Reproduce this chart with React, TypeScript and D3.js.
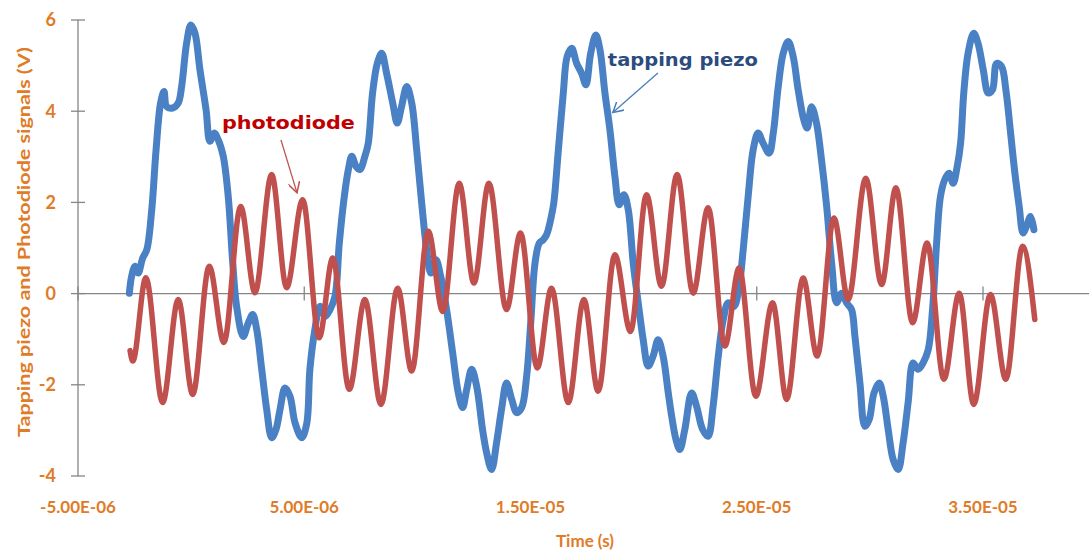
import React from "react";
import * as d3 from "d3";

// time in microseconds, signal in volts
const piezoT = [
  -2.73, -2.63, -2.48, -2.34, -2.14, -1.96, -1.74, -1.55, -1.35, -1.2, -1.08, -0.82, -0.57, -0.42, -0.2, -0.01, 0.17,
  0.39, 0.66, 0.83, 1.02, 1.2, 1.42, 1.64, 1.84, 2.01, 2.3, 2.53, 2.72, 2.9, 3.12, 3.34, 3.56, 3.75, 3.93, 4.15, 4.37,
  4.59, 4.89, 5.11, 5.25, 5.47, 5.69, 5.92, 6.14, 6.36, 6.55, 6.77, 6.95, 7.1, 7.29, 7.46, 7.68, 7.83, 8.02, 8.23,
  8.42, 8.64, 8.91, 9.11, 9.3, 9.53, 9.75, 9.97, 10.19, 10.41, 10.6, 10.82, 11.03, 11.29, 11.56, 11.81, 12.0, 12.18,
  12.4, 12.62, 12.88, 13.06, 13.28, 13.5, 13.72, 13.94, 14.17, 14.39, 14.61, 14.83, 15.01, 15.2, 15.39, 15.56, 15.71,
  15.89, 16.03, 16.22, 16.45, 16.62, 16.82, 17.04, 17.26, 17.45, 17.66, 17.89, 18.07, 18.29, 18.51, 18.73, 18.92,
  19.13, 19.32, 19.54, 19.76, 19.98, 20.2, 20.42, 20.64, 20.86, 21.09, 21.24, 21.43, 21.6, 21.82, 22.12, 22.34, 22.61,
  22.85, 23.07, 23.3, 23.52, 23.74, 23.99, 24.22, 24.4, 24.62, 24.84, 25.06, 25.28, 25.55, 25.73, 25.95, 26.17, 26.39,
  26.61, 26.83, 27.08, 27.23, 27.42, 27.64, 27.86, 28.09, 28.31, 28.53, 28.75, 28.97, 29.19, 29.34, 29.56, 29.78,
  29.97, 30.18, 30.41, 30.59, 30.81, 31.03, 31.25, 31.47, 31.69, 31.91, 32.13, 32.35, 32.58, 32.77, 32.95, 33.12,
  33.31, 33.5, 33.68, 33.86, 34.01, 34.15, 34.34, 34.59, 34.78, 35.01, 35.23, 35.42, 35.6, 35.82, 36.01, 36.22, 36.41,
  36.6, 36.77, 36.92, 37.1, 37.25,
];
const piezoV = [
  0.01, 0.38, 0.6, 0.45, 0.78, 0.96, 1.84, 3.15, 4.18, 4.43, 4.1, 4.07, 4.18, 4.54, 5.49, 5.89, 5.71, 4.91, 4.03, 3.34,
  3.52, 3.37, 3.01, 2.13, 0.67, -0.28, -0.94, -0.64, -0.46, -0.79, -1.66, -2.54, -3.16, -2.98, -2.54, -2.07, -2.25,
  -2.83, -3.16, -2.85, -1.66, -0.79, -0.28, -0.5, -0.35, -0.06, 1.11, 2.13, 2.72, 3.01, 2.79, 2.72, 3.01, 3.3, 4.4,
  5.05, 5.27, 4.83, 4.18, 3.74, 4.1, 4.54, 4.18, 3.15, 1.99, 0.96, 0.45, 0.74, 0.38, -0.35, -1.3, -2.18, -2.5, -2.1,
  -1.66, -2.03, -2.98, -3.49, -3.86, -3.27, -2.54, -1.96, -2.32, -2.61, -2.5, -1.81, -0.64, 0.67, 1.11, 1.18, 1.29,
  1.62, 1.99, 3.08, 4.4, 5.2, 5.38, 5.05, 4.83, 4.58, 5.27, 5.67, 5.35, 4.4, 3.59, 2.57, 1.95, 2.17, 1.84, 0.67, -0.2,
  -1.01, -1.59, -1.37, -1.01, -1.37, -2.18, -2.69, -3.2, -3.42, -2.98, -2.18, -2.47, -2.98, -3.13, -2.47, -1.37, -0.57,
  -0.2, -0.28, 0.16, 0.96, 2.13, 3.15, 3.52, 3.3, 3.08, 3.52, 4.54, 5.27, 5.53, 5.2, 4.47, 3.81, 3.63, 4.1, 3.74, 2.94,
  1.91, 0.67, -0.2, 0.01, -0.2, -0.35, -0.94, -1.96, -2.91, -2.76, -2.18, -1.96, -2.25, -2.98, -3.64, -3.86, -3.27,
  -2.39, -1.52, -1.66, -1.52, -1.23, -0.35, 1.11, 2.13, 2.5, 2.64, 2.42, 2.79, 3.3, 4.4, 5.27, 5.71, 5.49, 4.91, 4.4,
  4.47, 5.05, 4.98, 4.47, 3.52, 2.64, 1.91, 1.33, 1.47, 1.69, 1.4,
];

const diodeT = [
  -2.7, -2.58, -2.0, -1.26, -0.57, 0.07, 0.8, 1.45, 2.19, 2.82, 3.56, 4.22, 4.93, 5.66, 6.26, 6.99, 7.68, 8.39, 9.13,
  9.75, 10.48, 11.12, 11.85, 12.5, 13.16, 13.94, 14.56, 15.3, 15.93, 16.67, 17.36, 17.99, 18.73, 19.42, 20.13, 20.79,
  21.48, 22.19, 22.85, 23.59, 24.22, 24.96, 25.7, 26.32, 27.05, 27.67, 28.41, 29.04, 29.82, 30.52, 31.15, 31.89, 32.53,
  33.27, 33.95, 34.59, 35.33, 36.01, 36.75, 37.29,
];
const diodeV = [
  -1.25, -1.48, 0.35, -2.39, -0.13, -2.21, 0.6, -1.07, 1.91, 0.02, 2.61, 0.13, 2.06, -0.97, 0.78, -2.1, -0.13, -2.43,
  0.12, -1.7, 1.37, -0.39, 2.42, 0.23, 2.42, -0.35, 1.33, -1.63, 0.12, -2.39, -0.13, -2.14, 0.85, -0.83, 2.17, 0.16,
  2.61, 0.01, 1.88, -1.15, 0.56, -2.25, -0.2, -2.32, 0.34, -1.37, 1.66, -0.13, 2.53, 0.2, 2.32, -0.64, 1.11, -1.88,
  0.01, -2.43, -0.02, -1.88, 1.04, -0.57,
];

const xTicks = [-5, 5, 15, 25, 35];
const xTickLabels = ["-5.00E-06", "5.00E-06", "1.50E-05", "2.50E-05", "3.50E-05"];
const yTicks = [-4, -2, 0, 2, 4, 6];

const W = 1089;
const H = 551;
const axisColor = "#868686";
const labelColor = "#E07B27";
const blue = "#4A80C4";
const red = "#C0504D";

export default function App() {
  const x = d3.scaleLinear().domain([-5, 35]).range([78, 983]);
  const y = d3.scaleLinear().domain([-4, 6]).range([476, 20]);

  const piezo = piezoT.map((t, i) => [t, piezoV[i]] as [number, number]);
  const diode = diodeT.map((t, i) => [t, diodeV[i]] as [number, number]);

  const piezoLine = d3
    .line<[number, number]>()
    .x((d) => x(d[0]))
    .y((d) => y(d[1]))
    .curve(d3.curveCatmullRom.alpha(0.5));
  const diodeLine = d3
    .line<[number, number]>()
    .x((d) => x(d[0]))
    .y((d) => y(d[1]))
    .curve(d3.curveMonotoneX);

  const font = "Lato, 'Open Sans', sans-serif";
  const annFont = "'DejaVu Sans', Verdana, sans-serif";

  return (
    <svg
      width={W}
      height={H}
      style={{ position: "absolute", left: 0, top: 0, background: "#fff" }}
    >
      <defs>
        <marker id="headRed" viewBox="0 0 10 10" refX="9" refY="5" markerWidth="9" markerHeight="9" orient="auto">
          <path d="M0,0 L9,5 L0,10" fill="none" stroke={red} strokeWidth="1.3" />
        </marker>
        <marker id="headBlue" viewBox="0 0 10 10" refX="9" refY="5" markerWidth="9" markerHeight="9" orient="auto">
          <path d="M0,0 L9,5 L0,10" fill="none" stroke="#4A7EBB" strokeWidth="1.3" />
        </marker>
      </defs>

      {/* y axis */}
      <line x1={x(-5)} x2={x(-5)} y1={y(6)} y2={y(-4)} stroke={axisColor} strokeWidth={1.3} />
      {yTicks.map((v) => (
        <g key={v}>
          <line x1={x(-5) - 7} x2={x(-5) + 7} y1={y(v)} y2={y(v)} stroke={axisColor} strokeWidth={1.3} />
          <text
            x={x(-5) - 22}
            y={y(v)}
            dy="0.35em"
            textAnchor="end"
            fontFamily={font}
            fontWeight="bold"
            fontSize={18}
            fill={labelColor}
          >
            {v}
          </text>
        </g>
      ))}

      {/* x axis at zero */}
      <line x1={x(-5)} x2={W} y1={y(0)} y2={y(0)} stroke={axisColor} strokeWidth={1.3} />
      {xTicks.map((t, i) => (
        <g key={t}>
          <line x1={x(t)} x2={x(t)} y1={y(0) - 7} y2={y(0) + 7} stroke={axisColor} strokeWidth={1.3} />
          <text
            x={x(t)}
            y={507}
            dy="0.35em"
            textAnchor="middle"
            fontFamily={font}
            fontWeight="bold"
            fontSize={17}
            fill={labelColor}
          >
            {xTickLabels[i]}
          </text>
        </g>
      ))}

      {/* series */}
      <path d={piezoLine(piezo) ?? ""} fill="none" stroke={blue} strokeWidth={7} strokeLinejoin="round" strokeLinecap="round" />
      <path d={diodeLine(diode) ?? ""} fill="none" stroke={red} strokeWidth={5.5} strokeLinejoin="round" strokeLinecap="round" />

      {/* axis titles */}
      <text
        x={585}
        y={541}
        dy="0.35em"
        textAnchor="middle"
        fontFamily={font}
        fontWeight="bold"
        fontSize={17}
        fill={labelColor}
      >
        Time (s)
      </text>
      <text
        transform={`translate(24,242) rotate(-90)`}
        dy="0.35em"
        textAnchor="middle"
        fontFamily={font}
        fontWeight="bold"
        fontSize={17}
        fill={labelColor}
        textLength={390}
        lengthAdjust="spacingAndGlyphs"
      >
        Tapping piezo and Photodiode signals (V)
      </text>

      {/* annotations */}
      <text x={x(1.36)} y={y(3.62)} fontFamily={annFont} fontWeight="bold" fontSize={17} fill="#C00000" textLength={133} lengthAdjust="spacingAndGlyphs">
        photodiode
      </text>
      <line x1={x(3.97)} y1={y(3.37)} x2={x(4.68)} y2={y(2.21)} stroke={red} strokeWidth={1.3} markerEnd="url(#headRed)" />

      <text x={x(18.42)} y={y(5.0)} fontFamily={annFont} fontWeight="bold" fontSize={17} fill="#2B4C7E" textLength={150} lengthAdjust="spacingAndGlyphs">
        tapping piezo
      </text>
      <line x1={x(20.63)} y1={y(4.84)} x2={x(18.64)} y2={y(3.97)} stroke="#4A7EBB" strokeWidth={1.3} markerEnd="url(#headBlue)" />
    </svg>
  );
}
